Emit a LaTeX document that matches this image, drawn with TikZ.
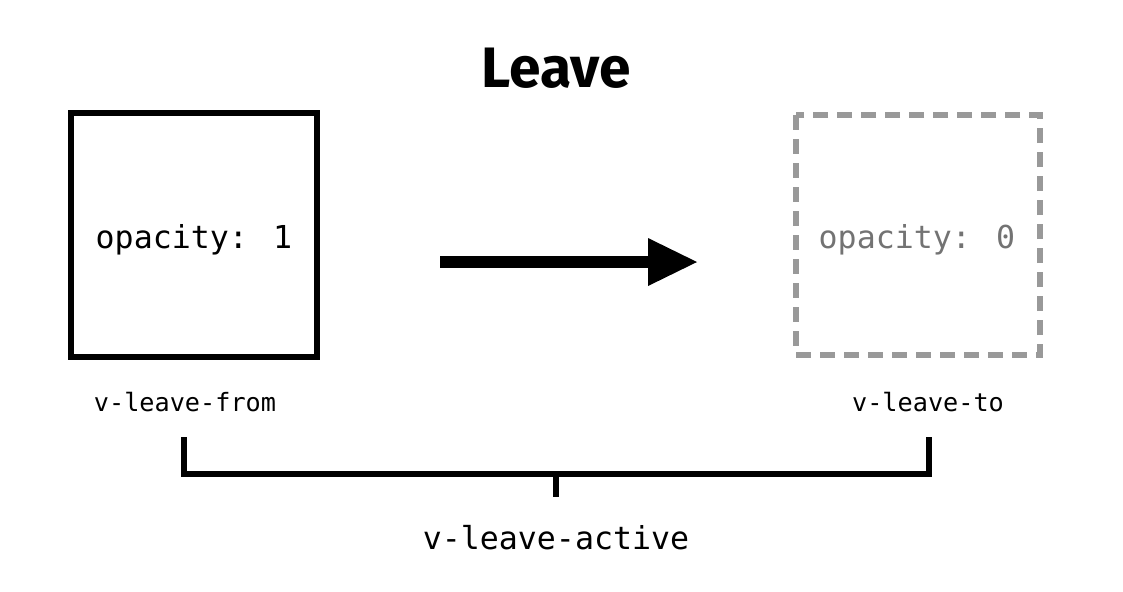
\documentclass[tikz,border=0pt]{standalone}
\usepackage{fontspec}
\newfontfamily\titlefont{Fira Sans}
\newfontfamily\monofont{DejaVu Sans Mono}
\begin{document}
\begin{tikzpicture}[x=0.5pt,y=-0.5pt,
  box/.style={line width=3pt},
  mono/.style={font=\monofont\fontsize{15.8}{18}\selectfont},
  lab/.style={font=\monofont\fontsize{12.6}{15}\selectfont}]
\useasboundingbox (0,0) rectangle (1123,591);
\node[font=\titlefont\bfseries\fontsize{28.5}{32}\selectfont] (title) at (556,68) {Leave};
\draw[box] (71,113) rectangle (317,357);
\node[mono] (from) at (194,240) {opacity: 1};
\draw[box,color=black!40,dash pattern=on 7.5pt off 4.5pt] (796,115) rectangle (1040,355);
\node[mono,text=black!55] (to) at (917,240) {opacity: 0};
\coordinate (a1) at (440,262);
\coordinate (a2) at (697,262);
\draw[line width=6pt] (a1) -- (650,262);
\fill (a2) -- (648,238) -- (648,286) -- cycle;
\node[lab] (lf) at (185,402) {v-leave-from};
\node[lab] (lt) at (928,402) {v-leave-to};
\draw[line width=3pt] (184,437) -- (184,474) -- (929,474) -- (929,437);
\draw[line width=3pt] (556,474) -- (556,497);
\node[mono] (la) at (556,538) {v-leave-active};
\end{tikzpicture}
\end{document}
